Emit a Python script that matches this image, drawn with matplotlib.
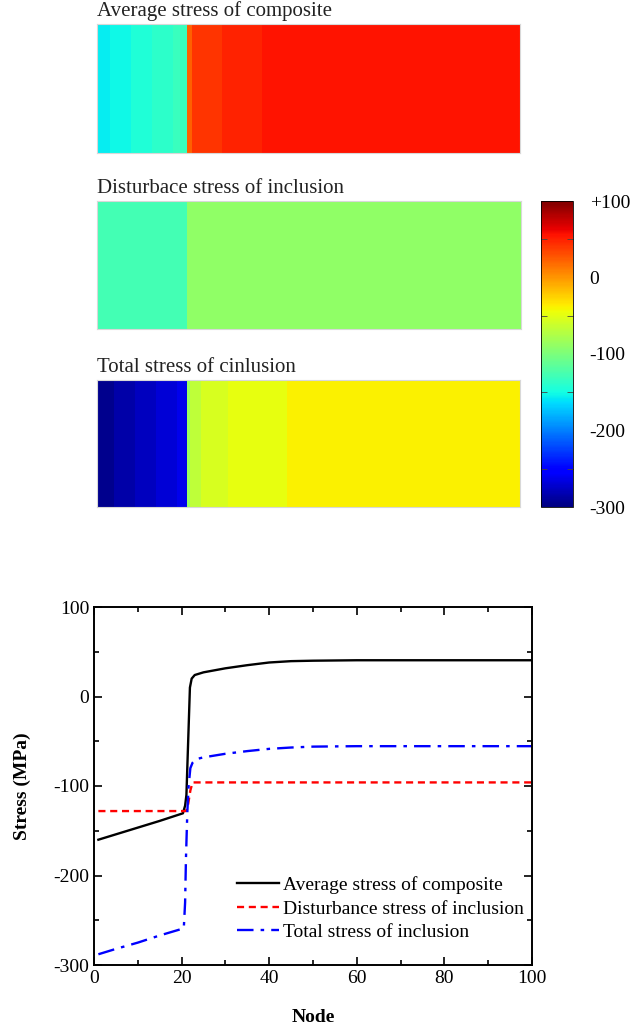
import numpy as np
import matplotlib
matplotlib.use("Agg")
import matplotlib.pyplot as plt
from matplotlib.cm import ScalarMappable
from matplotlib.colors import Normalize

plt.rcParams["font.family"] = ["Liberation Serif", "DejaVu Serif"]
plt.rcParams["axes.unicode_minus"] = False

# ---- line chart data ----
avg_node = [1, 5, 10, 15, 20.3, 20.8, 21.1, 21.5, 21.9, 22.3, 23, 25, 30, 35, 40, 45, 50, 60, 80, 100]
avg_val = [-160, -154, -146.5, -139, -130.5, -122, -110, -50, 10, 20, 24, 27, 31.5, 35, 38, 39.5, 40, 40.5, 40.5, 40.5]

dist_node = [1, 10, 21, 21.5, 22, 22.5, 30, 50, 100]
dist_val = [-128, -128, -128, -120, -105, -96, -96, -96, -96]

tot_node = [1, 5, 10, 15, 20.5, 20.8, 21.0, 21.3, 21.6, 22.0, 22.5, 23.3, 25, 30, 35, 40, 45, 50, 60, 80, 100]
tot_val = [-288, -282, -275, -267, -259, -230, -180, -130, -100, -80, -74, -70, -68, -64, -61, -58.5, -57, -56, -55.5, -55.5, -55.5]

strip_avg_edges = [0, 3, 8, 13, 18, 21.2, 22.4, 29.5, 38.9, 100]
strip_avg_vals = [-157, -152, -145, -138, -132, 22, 42, 49, 56]

strip_dist_edges = [0, 21.3, 100]
strip_dist_vals = [-128, -90]

strip_tot_edges = [0, 4, 9, 14, 19, 21.2, 21.9, 24.7, 31, 45, 100]
strip_tot_vals = [-294, -285, -277, -270, -262, -85, -68, -55, -47, -39]

strip_titles = ["Average stress of composite", "Disturbace stress of inclusion", "Total stress of cinlusion"]
legend_labels = ["Average stress of composite", "Disturbance stress of inclusion", "Total stress of inclusion"]
cbar_ticks = [-300, -200, -100, 0, 100]
cbar_labels = ["-300", "-200", "-100", "0", "+100"]

VMIN, VMAX = -300, 100
W, H = 631, 1028


def fr(x0, y0, x1, y1):
    # pixel box -> figure fraction rect
    return [x0 / W, 1 - y1 / H, (x1 - x0) / W, (y1 - y0) / H]


def draw_strip(ax, edges, vals, title):
    ax.pcolormesh(edges, [0, 1], np.asarray(vals, dtype=float)[np.newaxis, :],
                  cmap="jet", vmin=VMIN, vmax=VMAX, shading="flat")
    ax.set_xlim(0, 100)
    ax.set_ylim(0, 1)
    ax.set_xticks([])
    ax.set_yticks([])
    for s in ax.spines.values():
        s.set_color("#d8d8d8")
        s.set_linewidth(0.8)
    ax.text(0, 1.02, title, transform=ax.transAxes, ha="left", va="bottom",
            fontsize=15, color="#222222")


fig = plt.figure(figsize=(W / 100, H / 100), dpi=100)

strip_boxes = [(97, 24, 520, 153), (97, 201, 521, 329), (97, 380, 520, 507)]
strip_data = [(strip_avg_edges, strip_avg_vals), (strip_dist_edges, strip_dist_vals),
              (strip_tot_edges, strip_tot_vals)]
for box, (e, v), t in zip(strip_boxes, strip_data, strip_titles):
    ax_s = fig.add_axes(fr(*box))
    draw_strip(ax_s, e, v, t)

cax = fig.add_axes(fr(541, 201, 573, 507))
sm = ScalarMappable(norm=Normalize(VMIN, VMAX), cmap="jet")
cb = fig.colorbar(sm, cax=cax)
cb.set_ticks(cbar_ticks)
cb.set_ticklabels(cbar_labels)
cb.ax.yaxis.set_ticks([-250, -150, -50, 50], minor=True)
cb.ax.tick_params(which="major", length=0, labelsize=14, pad=12)
cb.ax.tick_params(which="minor", direction="in", left=True, right=True, length=4, color="#444444")
cb.outline.set_linewidth(0.6)

# ---- line chart ----
ax = fig.add_axes(fr(94, 607, 532, 965))
ax.plot(avg_node, avg_val, color="black", lw=1.7, label=legend_labels[0])
ax.plot(dist_node, dist_val, color="red", lw=1.7, ls=(0, (3, 2)), label=legend_labels[1])
ax.plot(tot_node, tot_val, color="blue", lw=1.7, ls=(0, (7, 3, 1.5, 3)), label=legend_labels[2])

ax.set_xlim(0, 100)
ax.set_ylim(-300, 100)
ax.set_xticks(np.arange(0, 101, 20))
ax.set_xticks(np.arange(10, 100, 20), minor=True)
ax.set_yticks(np.arange(-300, 101, 100))
ax.set_yticks(np.arange(-250, 100, 100), minor=True)
ax.tick_params(which="both", direction="in", top=True, right=True, labelsize=14, width=1.2)
ax.tick_params(which="major", length=6)
ax.tick_params(which="minor", length=3.5)
for s in ax.spines.values():
    s.set_linewidth(1.4)

ax.set_xlabel("Node", fontsize=14, fontweight="bold", labelpad=16)
ax.set_ylabel("Stress (MPa)", fontsize=14, fontweight="bold", labelpad=16)

ax.legend(loc="lower right", bbox_to_anchor=(1.0, 0.045), frameon=False, fontsize=14,
          handlelength=2.2, handletextpad=0.2, labelspacing=0.3, borderaxespad=0.0)

fig.savefig("out.png", dpi=100)
